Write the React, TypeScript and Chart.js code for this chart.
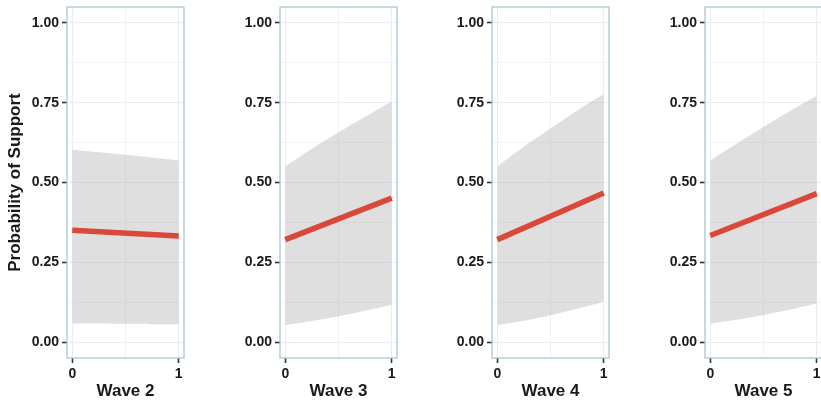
import React, { useEffect, useRef } from 'react';
import { Chart, registerables } from 'chart.js';

Chart.register(...registerables);

// ---- data ----
const waveTitles = ['Wave 2', 'Wave 3', 'Wave 4', 'Wave 5'];
const yAxisTitle = 'Probability of Support';

const fitX = [0, 1];
const fitW2 = [0.35, 0.332];
const fitW3 = [0.321, 0.451];
const fitW4 = [0.321, 0.467];
const fitW5 = [0.334, 0.465];

const bandX = [0, 0.25, 0.5, 0.75, 1];
const upperW2 = [0.603, 0.595, 0.587, 0.578, 0.569];
const lowerW2 = [0.058, 0.058, 0.057, 0.056, 0.056];
const upperW3 = [0.551, 0.606, 0.657, 0.706, 0.754];
const lowerW3 = [0.053, 0.066, 0.081, 0.098, 0.116];
const upperW4 = [0.551, 0.612, 0.669, 0.725, 0.777];
const lowerW4 = [0.053, 0.067, 0.084, 0.104, 0.126];
const upperW5 = [0.569, 0.622, 0.674, 0.724, 0.772];
const lowerW5 = [0.058, 0.07, 0.085, 0.102, 0.121];

const yMajorTicks = [0, 0.25, 0.5, 0.75, 1];
const yTickLabels = ['0.00', '0.25', '0.50', '0.75', '1.00'];
const yMinorTicks = [0.125, 0.375, 0.625, 0.875];
const xMajorTicks = [0, 1];
const xTickLabels = ['0', '1'];
const xMinorTicks = [0.5];

const fits = [fitW2, fitW3, fitW4, fitW5];
const uppers = [upperW2, upperW3, upperW4, upperW5];
const lowers = [lowerW2, lowerW3, lowerW4, lowerW5];

// ---- layout / style ----
const panelLefts = [67, 280, 492, 705];
const axisW = 66;
const plotW = 117;
const canvasW = axisW + plotW + 4;
const H = 403;
const FONT = "'Liberation Sans', Arial, Helvetica, sans-serif";
const TEXT = '#1a1a1a';

const boxPlugin = {
  id: 'panelBox',
  afterDraw(chart: any) {
    const { ctx, chartArea } = chart;
    ctx.save();
    ctx.strokeStyle = '#adc5d1';
    ctx.lineWidth = 1.3;
    ctx.strokeRect(chartArea.left, chartArea.top, chartArea.right - chartArea.left, chartArea.bottom - chartArea.top);
    ctx.restore();
  },
};

function Panel({ index }: { index: number }) {
  const ref = useRef<HTMLCanvasElement | null>(null);
  useEffect(() => {
    if (!ref.current) return;
    const toPts = (xs: number[], ys: number[]) => xs.map((x, i) => ({ x, y: ys[i] }));
    const isMajorY = (v: number) => yMajorTicks.some((t) => Math.abs(t - v) < 1e-9);
    const isMajorX = (v: number) => xMajorTicks.some((t) => Math.abs(t - v) < 1e-9);
    const chart = new Chart(ref.current, {
      type: 'line',
      data: {
        datasets: [
          {
            data: toPts(bandX, uppers[index]),
            borderWidth: 0,
            pointRadius: 0,
            backgroundColor: 'rgba(150,150,150,0.3)',
            fill: '+1',
            tension: 0.4,
          },
          {
            data: toPts(bandX, lowers[index]),
            borderWidth: 0,
            pointRadius: 0,
            fill: false,
            tension: 0.4,
          },
          {
            data: toPts(fitX, fits[index]),
            borderColor: '#f72812',
            borderWidth: 5.5,
            borderCapStyle: 'butt',
            pointRadius: 0,
            fill: false,
          },
        ],
      },
      options: {
        animation: false,
        responsive: false,
        events: [],
        layout: { padding: { top: 7, right: 4, bottom: 0, left: 0 } },
        plugins: { legend: { display: false }, tooltip: { enabled: false }, title: { display: false } },
        scales: {
          x: {
            type: 'linear',
            min: -0.05,
            max: 1.05,
            afterFit: (s: any) => {
              s.height = 45;
              s.paddingLeft = 0;
              s.paddingRight = 0;
            },
            afterBuildTicks: (s: any) => {
              s.ticks = [...xMajorTicks, ...xMinorTicks].sort((a, b) => a - b).map((v) => ({ value: v }));
            },
            ticks: {
              autoSkip: false,
              maxRotation: 0,
              padding: 3,
              color: TEXT,
              font: { family: FONT, size: 14, weight: 'bold' },
              callback: (v: any) => {
                const i = xMajorTicks.findIndex((t) => Math.abs(t - v) < 1e-9);
                return i >= 0 ? xTickLabels[i] : '';
              },
            },
            grid: {
              color: (c: any) => (isMajorX(c.tick?.value) ? '#e8eef1' : '#eff3f5'),
              lineWidth: 1,
              tickLength: 5,
              tickWidth: 1.6,
              tickColor: (c: any) => (isMajorX(c.tick?.value) ? '#333333' : 'rgba(0,0,0,0)'),
            },
            border: { display: false },
            title: {
              display: true,
              text: waveTitles[index],
              color: TEXT,
              font: { family: FONT, size: 17, weight: 'bold' },
              padding: { top: 0, bottom: 1 },
            },
          },
          y: {
            type: 'linear',
            min: -0.05,
            max: 1.05,
            afterFit: (s: any) => {
              s.width = axisW;
              s.paddingTop = 0;
              s.paddingBottom = 0;
            },
            afterBuildTicks: (s: any) => {
              s.ticks = [...yMajorTicks, ...yMinorTicks].sort((a, b) => a - b).map((v) => ({ value: v }));
            },
            ticks: {
              autoSkip: false,
              padding: 3,
              color: TEXT,
              font: { family: FONT, size: 14, weight: 'bold' },
              callback: (v: any) => {
                const i = yMajorTicks.findIndex((t) => Math.abs(t - v) < 1e-9);
                return i >= 0 ? yTickLabels[i] : '';
              },
            },
            grid: {
              color: (c: any) => (isMajorY(c.tick?.value) ? '#e8eef1' : '#f1f4f6'),
              lineWidth: 1,
              tickLength: 5,
              tickWidth: 1.6,
              tickColor: (c: any) => (isMajorY(c.tick?.value) ? '#333333' : 'rgba(0,0,0,0)'),
            },
            border: { display: false },
            title: {
              display: index === 0,
              text: yAxisTitle,
              color: TEXT,
              font: { family: FONT, size: 17, weight: 'bold' },
              padding: { top: 4, bottom: 0 },
            },
          },
        },
      },
      plugins: [boxPlugin],
    } as any);
    return () => chart.destroy();
  }, [index]);
  return (
    <canvas
      ref={ref}
      width={canvasW}
      height={H}
      style={{ position: 'absolute', left: panelLefts[index] - axisW, top: 0, width: canvasW, height: H }}
    />
  );
}

export default function App() {
  return (
    <div
      style={{
        position: 'absolute',
        left: 0,
        top: 0,
        width: 821,
        height: H,
        overflow: 'hidden',
        background: '#ffffff',
      }}
    >
      {waveTitles.map((_, i) => (
        <Panel key={i} index={i} />
      ))}
    </div>
  );
}
